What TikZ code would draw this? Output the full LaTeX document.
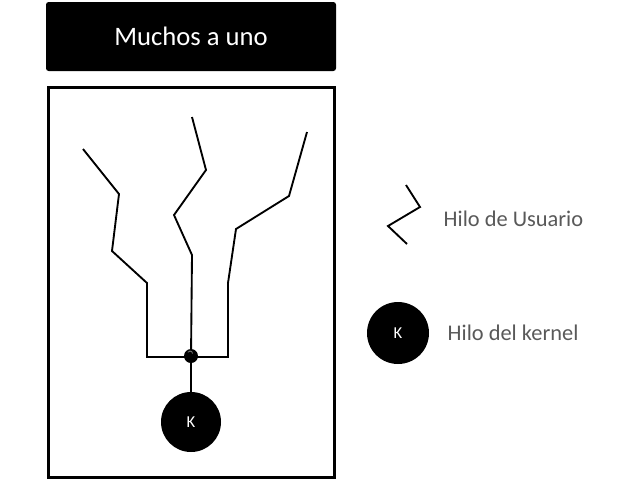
\documentclass[tikz,border=0pt]{standalone}
\usepackage{fontspec}
\setmainfont{Carlito}
\usepackage{tikz}
\usepackage{xcolor}
\usetikzlibrary{positioning, calc}

\definecolor{legendgray}{HTML}{595959}
\tikzset{
  hilo/.style={line width=1.4pt, line join=miter},
  kernel/.style={circle, fill=black, text=white, minimum size=45pt, inner sep=0pt, font=\fontsize{12.5}{14}\selectfont},
  leyenda/.style={anchor=west, text=legendgray, font=\fontsize{16.8}{19}\selectfont}
}

\begin{document}
\begin{tikzpicture}[x=0.75pt, y=-0.75pt]
    \useasboundingbox (0,0) rectangle (640,480);

    % titulo
    \node[fill=black, rounded corners=2pt, minimum width=217.5pt, minimum height=51.75pt, text=white, font=\fontsize{20}{23}\selectfont] (titulo) at (191,36.5) {Muchos a uno};

    % caja del proceso
    \draw[line width=2.25pt] (48,87) rectangle (334,477);

    % hilos de usuario
    \draw[hilo] (83,149) -- (119,194) -- (112,251) -- (147,283) -- (147,357) -- (191,357);
    \draw[hilo] (192,117) -- (206,170) -- (174,215) -- (192,255) -- (191,357);
    \draw[hilo] (307,132) -- (289,196) -- (236,229) -- (228,283) -- (228,357) -- (191,357);

    % union e hilo del kernel
    \node[circle, fill=black, minimum size=10.5pt, inner sep=0pt] (union) at (191,356) {};
    \draw[gray, line width=0.6pt] ($(union)+(1.5,-2.5)$) arc (0:-150:2.5);
    \node[kernel] (k) at (191,422) {K};
    \draw[hilo] (union) -- (k);

    % leyenda
    \draw[hilo] (406,185) -- (420,207) -- (388,226) -- (407,244);
    \node[leyenda] (usuario) at (439,219) {Hilo de Usuario};
    \node[kernel, minimum size=46.5pt] (kleyenda) at (398,333) {K};
    \node[leyenda] (kerneltxt) at (443,333) {Hilo del kernel};
\end{tikzpicture}
\end{document}
